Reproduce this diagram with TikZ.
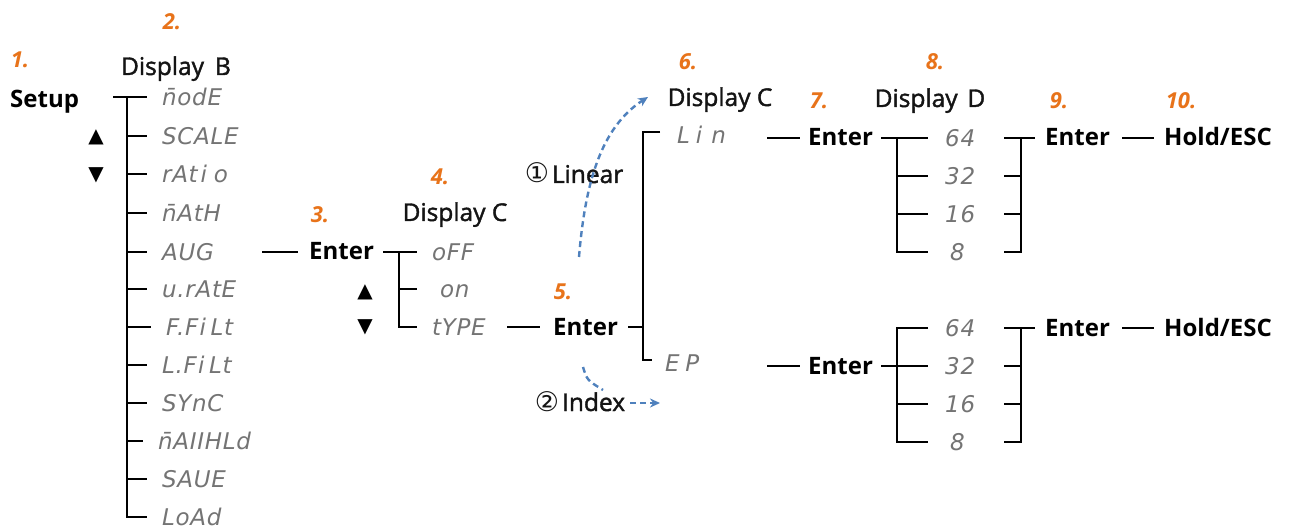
\documentclass[tikz,border=0pt]{standalone}
\usepackage{fontspec}
\setmainfont{Open Sans}
\newfontfamily\semifont{Open Sans}[FakeBold=1.6]
\newfontfamily\symfont{DejaVu Sans}
\newfontfamily\segfont{DejaVu Sans}[LetterSpace=3]
\usetikzlibrary{arrows.meta}
\definecolor{numor}{HTML}{E8731A}
\definecolor{seggray}{HTML}{747474}
\definecolor{dashblue}{HTML}{4F81BD}
\newcommand{\circnum}[1]{{\fontsize{27}{28}\selectfont\symfont #1}}
\begin{document}
\begin{tikzpicture}[x=1pt,y=-1pt,
  conn/.style={line width=2.9pt, line cap=butt, black},
  txt/.style={inner sep=0pt, text height=16pt, text depth=0pt, font=\fontsize{24.5}{28}\semifont, text=black!92},
  btxt/.style={txt, font=\fontsize{24}{28}\selectfont\bfseries, text=black},
  num/.style={inner sep=0pt, font=\fontsize{22}{26}\selectfont\bfseries\itshape, text=numor},
  seg/.style={inner sep=0pt, text height=17pt, text depth=0pt, anchor=west, font=\fontsize{23}{26}\selectfont\segfont\itshape, text=seggray},
  tri/.style={inner sep=0pt, font=\fontsize{20}{22}\selectfont\symfont},
  dsh/.style={line width=2.4pt, dashblue, dash pattern=on 6pt off 4pt},
  tip/.style={-{Stealth[length=10pt,width=9pt]}}
]
\useasboundingbox[fill=white] (0,0) rectangle (1292,529);

% ---------- column 1 / 2 ----------
\node[num] (n1) at (20,60) {1.};
\node[num] (n2) at (172,22) {2.};
\node[txt] (dispB) at (176,67) {Display\hspace{0.45em}B};
\node[btxt, anchor=west] (setup) at (10,100) {Setup};
\node[tri] (up1) at (96,137) {▲};
\node[tri] (dn1) at (96,175) {▼};

\node[seg] (b1) at (162,97) {n̄odE};
\node[seg] (b2) at (162,136) {SCALE};
\node[seg] (b3) at (162,174) {rAt\hspace{0.12em}i\hspace{0.3em}o};
\node[seg] (b4) at (162,213) {n̄AtH};
\node[seg] (b5) at (162,252) {AUG};
\node[seg] (b6) at (162,289) {u.rAtE};
\node[seg] (b7) at (166,327) {F.F\hspace{0.05em}i\hspace{0.2em}Lt};
\node[seg] (b8) at (162,365) {L.F\hspace{0.05em}i\hspace{0.2em}Lt};
\node[seg] (b9) at (162,403) {SYnC};
\node[seg] (b10) at (158,441) {n̄AIIHLd};
\node[seg] (b11) at (162,479) {SAUE};
\node[seg] (b12) at (162,517) {LoAd};

\coordinate (sj) at (113,97);
\coordinate (bj) at (127,97);
\draw[conn] (sj) -- ([xshift=-15pt]b1.west);
\foreach \i in {2,...,11}{
  \draw[conn] (bj |- b\i.west) -- ([xshift=-15pt]b\i.west);
}
\draw[conn] (bj) -- (bj |- b12.west) -- ([xshift=-15pt]b12.west);

% ---------- Enter 3 / Display C ----------
\node[num] (n3) at (320,215) {3.};
\node[btxt, anchor=west] (e1) at (309,252) {Enter};
\draw[conn] ([xshift=100pt]b5.west) -- ([xshift=-11pt]e1.west);

\node[num] (n4) at (440,177) {4.};
\node[txt] (dC1) at (455,213) {Display C};
\node[tri] (up2) at (365,292) {▲};
\node[tri] (dn2) at (365,327) {▼};
\node[seg] (c1) at (432,252) {oFF};
\node[seg] (c2) at (440,289) {on};
\node[seg] (c3) at (432,327) {tYPE};
\coordinate (cj) at (399,252);
\draw[conn] ([xshift=-49pt]c1.west) -- ([xshift=-15pt]c1.west);
\draw[conn] (cj) -- (cj |- c3.west) -- ([xshift=-15pt]c3.west);
\draw[conn] (cj |- c2.west) -- ([xshift=-23pt]c2.west);

% ---------- Enter 5 ----------
\node[num] (n5) at (563,292) {5.};
\node[btxt, anchor=west] (e2) at (553,327) {Enter};
\draw[conn] ([xshift=75pt]c3.west) -- ([xshift=-13pt]e2.west);

\node[num] (n6) at (688,62) {6.};
\node[txt] (dC2) at (720,98) {Display C};
\node[seg] (lin) at (677,135) {L\hspace{0.25em}i\hspace{0.4em}n};
\node[seg] (ep) at (665,363) {E\hspace{0.25em}P};
\coordinate (dj) at (643,327);
\coordinate (dtop) at (643,132);
\coordinate (dbot) at (643,360);
\draw[conn] ([xshift=10pt]e2.east) -- (dj);
\draw[conn] ([xshift=-17pt]lin.west |- dtop) -- (dtop) -- (dbot) -- ([xshift=-13pt]ep.west |- dbot);

% dashed arrows
\node[txt] (linear) at (574,175) {\circnum{①}\hspace{0.12em}Linear};
\node[txt] (index) at (580,403) {\circnum{②}\hspace{0.12em}Index};
\coordinate (lstart) at (579,257);
\coordinate (lend) at (648,97);
\draw[dsh, tip] (lstart) .. controls (585,185) and (600,128) .. (lend);
\coordinate (istart) at (583,367);
\coordinate (iend) at (603,390);
\coordinate (iarr) at (660,403);
\draw[dsh] (istart) .. controls (587,380) .. (iend);
\draw[dsh, tip] ([xshift=5pt]index.east) -- (iarr);

% ---------- upper branch ----------
\node[num] (n7) at (819,101) {7.};
\node[btxt, anchor=west] (e3) at (808,138) {Enter};
\draw[conn] ([xshift=90pt]lin.west |- e3.west) -- ([xshift=-8pt]e3.west);
\node[num] (n8) at (935,62) {8.};
\node[txt] (dD) at (930,99) {Display\hspace{0.4em}D};
\node[seg] (p1) at (945,138) {64};
\node[seg] (p2) at (945,176) {32};
\node[seg] (p3) at (945,214) {16};
\node[seg] (p4) at (950,252) {8};
\coordinate (pj) at (897,138);
\draw[conn] ([xshift=8pt]e3.east) -- ([xshift=-17pt]p1.west);
\draw[conn] (pj) -- (pj |- p4.west) -- ([xshift=-22pt]p4.west);
\foreach \i in {2,3}{\draw[conn] (pj |- p\i.west) -- ([xshift=-17pt]p\i.west);}
\coordinate (qj) at (1021,138);
\foreach \i in {1,2,3}{\draw[conn] ([xshift=59pt]p\i.west) -- (qj |- p\i.west);}
\draw[conn] ([xshift=54pt]p4.west) -- (qj |- p4.west) -- (qj);
\node[num] (n9) at (1059,101) {9.};
\node[btxt, anchor=west] (e4) at (1045,138) {Enter};
\draw[conn] (qj) -- ([xshift=-10pt]e4.west);
\node[num] (n10) at (1181,101) {10.};
\node[btxt, anchor=west] (h1) at (1164,138) {Hold/ESC};
\draw[conn] ([xshift=12pt]e4.east) -- ([xshift=-10pt]h1.west);

% ---------- lower branch ----------
\node[btxt, anchor=west] (e5) at (808,366) {Enter};
\draw[conn] ([xshift=102pt]ep.west |- e5.west) -- ([xshift=-8pt]e5.west);
\node[seg] (r1) at (945,328) {64};
\node[seg] (r2) at (945,366) {32};
\node[seg] (r3) at (945,404) {16};
\node[seg] (r4) at (950,442) {8};
\coordinate (rj) at (897,328);
\draw[conn] ([xshift=8pt]e5.east) -- ([xshift=-17pt]r2.west);
\draw[conn] ([xshift=-17pt]r1.west) -- (rj) -- (rj |- r4.west) -- ([xshift=-22pt]r4.west);
\draw[conn] (rj |- r3.west) -- ([xshift=-17pt]r3.west);
\coordinate (sj2) at (1021,328);
\foreach \i in {1,2,3}{\draw[conn] ([xshift=59pt]r\i.west) -- (sj2 |- r\i.west);}
\draw[conn] ([xshift=54pt]r4.west) -- (sj2 |- r4.west) -- (sj2);
\node[btxt, anchor=west] (e6) at (1045,328) {Enter};
\draw[conn] (sj2) -- ([xshift=-10pt]e6.west);
\node[btxt, anchor=west] (h2) at (1164,328) {Hold/ESC};
\draw[conn] ([xshift=12pt]e6.east) -- ([xshift=-10pt]h2.west);
\end{tikzpicture}
\end{document}
